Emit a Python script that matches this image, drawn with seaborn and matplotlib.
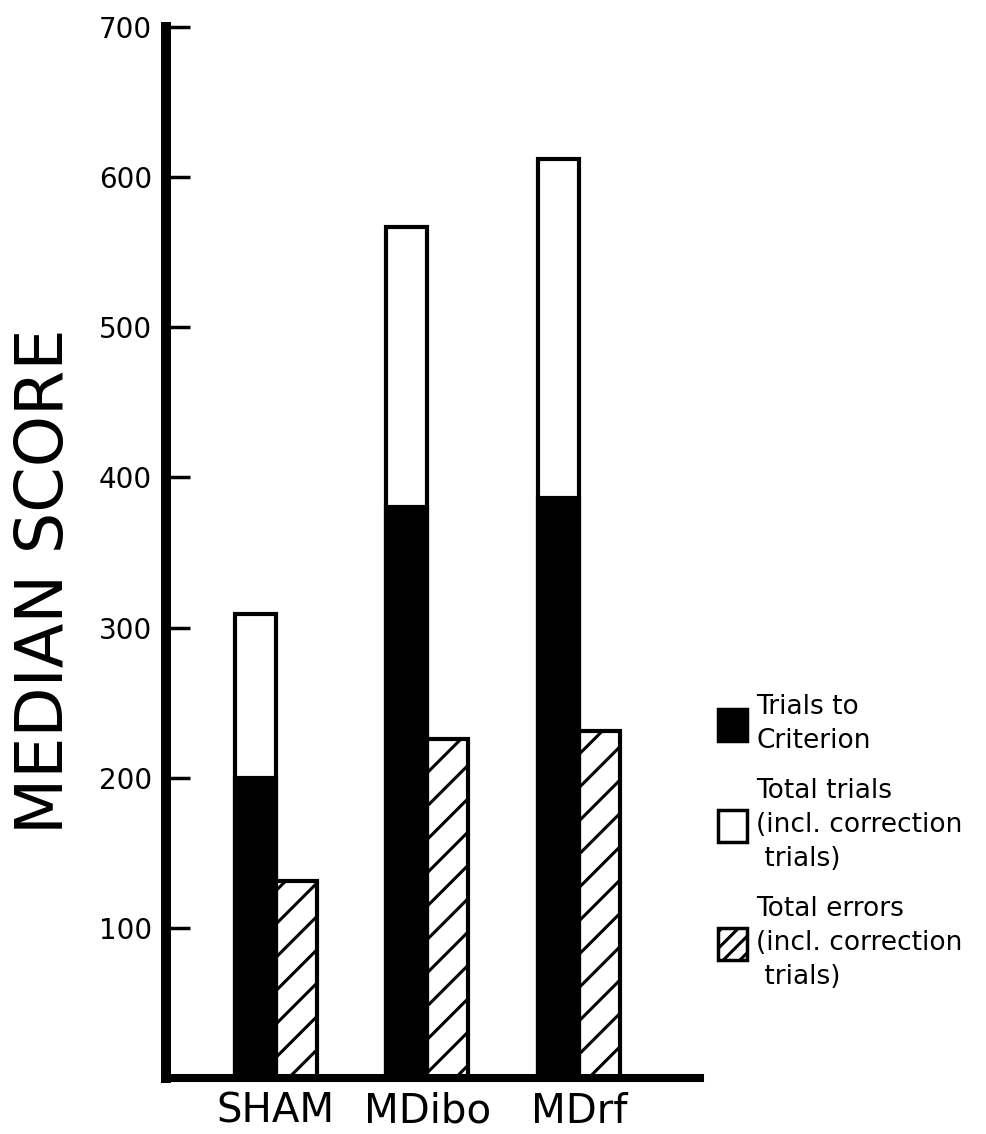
import pandas as pd
import numpy as np
import matplotlib
matplotlib.use("Agg")
import matplotlib.pyplot as plt
import matplotlib.patches as mpatches
import seaborn as sns

# values
groups = ["SHAM", "MDibo", "MDrf"]
trials_to_criterion = [200, 380, 386]
total_trials = [309, 567, 612]
total_errors = [131, 226, 231]
y_ticks = [100, 200, 300, 400, 500, 600, 700]

sns.set_style("white")
plt.rcParams["font.family"] = ["DejaVu Sans"]
plt.rcParams["text.color"] = "black"
plt.rcParams["axes.labelcolor"] = "black"
plt.rcParams["hatch.linewidth"] = 2.2
plt.rcParams["hatch.color"] = "black"

kinds = ["trials", "errors"]
df_back = pd.DataFrame({
    "group": groups * 2,
    "kind": ["trials"] * 3 + ["errors"] * 3,
    "value": total_trials + total_errors,
})
df_crit = pd.DataFrame({"group": groups, "kind": ["trials"] * 3, "value": trials_to_criterion})

fig = plt.figure(figsize=(9.87, 11.34), dpi=100)
ax = fig.add_axes([0.1682, 0.0494, 0.541, 0.9268])

# white total-trials bars + hatched error bars
sns.barplot(data=df_back, x="group", y="value", hue="kind", hue_order=kinds, order=groups,
            palette={"trials": "white", "errors": "white"}, edgecolor="black", linewidth=3,
            width=0.54, gap=0, dodge=True, errorbar=None, legend=False, ax=ax)
for p in ax.containers[1]:
    p.set_hatch("/")

# black trials-to-criterion bars drawn over the white ones
sns.barplot(data=df_crit, x="group", y="value", hue="kind", hue_order=kinds, order=groups,
            palette={"trials": "black", "errors": "white"}, edgecolor="black", linewidth=3,
            width=0.54, gap=0, dodge=True, errorbar=None, legend=False, ax=ax)

ax.set_xlim(-0.722, 2.797)
ax.set_ylim(0, 700)
ax.set_yticks(y_ticks)
ax.set_xlabel("")
ax.set_ylabel("")

sns.despine(ax=ax)
ax.spines["left"].set_linewidth(7.2)
ax.spines["bottom"].set_linewidth(5.8)
ax.spines["left"].set_color("black")
ax.spines["bottom"].set_color("black")

ax.tick_params(axis="y", left=True, direction="in", length=17, width=2.5, pad=10,
               labelsize=20, colors="black")
ax.tick_params(axis="x", bottom=False, length=0, pad=10, labelsize=29, colors="black")

fig.text(0.046, 0.487, "MEDIAN SCORE", rotation=90, fontsize=47, ha="center", va="center")

handles = [
    mpatches.Patch(facecolor="black", edgecolor="black", linewidth=2.5),
    mpatches.Patch(facecolor="white", edgecolor="black", linewidth=2.5),
    mpatches.Patch(facecolor="white", edgecolor="black", linewidth=2.5, hatch="//"),
]
labels = ["Trials to\nCriterion",
          "Total trials\n(incl. correction\n trials)",
          "Total errors\n(incl. correction\n trials)"]
leg = fig.legend(handles, labels, loc="upper left", bbox_to_anchor=(0.7275, 0.388),
                 frameon=False, fontsize=19, handlelength=1.1, handleheight=1.5,
                 handletextpad=0.35, labelspacing=0.9, borderpad=0, borderaxespad=0)
for t in leg.get_texts():
    t.set_linespacing(1.4)
    t.set_color("black")

fig.savefig("out.png", dpi=100)
